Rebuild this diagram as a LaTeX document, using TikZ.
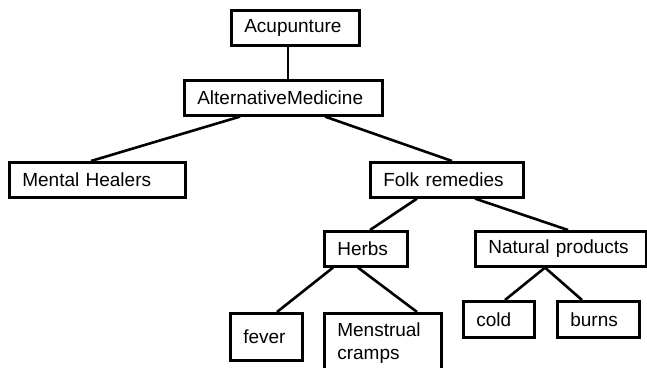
\documentclass[tikz,border=0pt]{standalone}
\usepackage{fontspec}
\setmainfont{Liberation Sans}
\begin{document}
\begin{tikzpicture}[x=1pt,y=-1pt,
  tbox/.style n args={2}{draw, line width=2.6pt, rectangle, anchor=north west,
    inner xsep=13pt, inner ysep=0pt, text width=#1-26pt, minimum height=#2,
    align=left, font=\fontsize{19}{23}\selectfont},
  link/.style={line width=2.6pt}]
\useasboundingbox (0,0) rectangle (647,367);
\clip (0,0) rectangle (647,367);
\node[tbox={128pt}{35pt}] (acu) at (230,9) {Acupunture};
\node[tbox={198pt}{35pt}] (alt) at (183,79) {AlternativeMedicine};
\node[tbox={176pt}{35pt}] (mh) at (8,161) {Mental Healers};
\node[tbox={153pt}{35pt}] (folk) at (369,161) {Folk remedies};
\node[tbox={83pt}{35pt}] (herbs) at (323,230) {Herbs};
\node[tbox={171pt}{35pt}] (nat) at (474,230) {Natural products};
\node[tbox={72pt}{47pt}] (fever) at (229,312) {fever};
\node[tbox={117pt}{60pt}] (mens) at (323,312) {Menstrual\\cramps};
\node[tbox={71pt}{36pt}] (cold) at (462,300) {cold};
\node[tbox={82pt}{36pt}] (burns) at (556,300) {burns};
\draw[link] ([xshift=58pt]acu.south west) -- ([xshift=105pt]alt.north west);
\draw[link] ([xshift=57pt]alt.south west) -- ([xshift=83pt]mh.north west);
\draw[link] ([xshift=142pt]alt.south west) -- ([xshift=83pt]folk.north west);
\draw[link] ([xshift=48pt]folk.south west) -- ([xshift=47pt]herbs.north west);
\draw[link] ([xshift=106pt]folk.south west) -- ([xshift=94pt]nat.north west);
\draw[link] ([xshift=10pt]herbs.south west) -- ([xshift=48pt]fever.north west);
\draw[link] ([xshift=35pt]herbs.south west) -- ([xshift=94pt]mens.north west);
\draw[link] ([xshift=71pt]nat.south west) -- ([xshift=43pt]cold.north west);
\draw[link] ([xshift=71pt]nat.south west) -- ([xshift=26pt]burns.north west);
\end{tikzpicture}
\end{document}
